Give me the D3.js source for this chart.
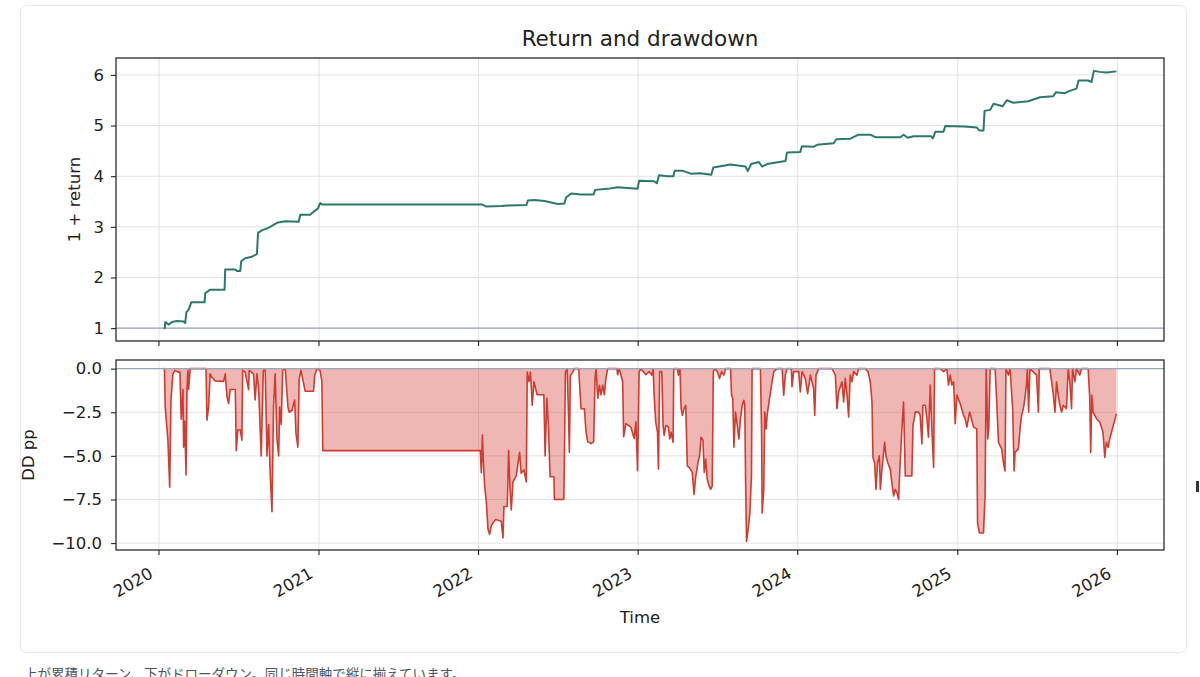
<!DOCTYPE html>
<html>
<head>
<meta charset="utf-8">
<script src="https://cdn.jsdelivr.net/npm/d3@7/dist/d3.min.js"></script>
<style>
html, body { margin: 0; padding: 0; background: #fff; }
svg { display: block; }
</style>
</head>
<body>
<svg id="chart" width="1200" height="677"></svg>
<script>
// values, time as decimal years
var eqT = [2020.029,2020.036,2020.039,2020.061,2020.081,2020.112,2020.154,2020.164,2020.171,2020.186,2020.202,2020.285,2020.289,2020.320,2020.410,2020.414,2020.477,2020.487,2020.508,2020.514,2020.539,2020.581,2020.612,2020.619,2020.643,2020.675,2020.695,2020.737,2020.789,2020.873,2020.883,2020.945,2020.966,2020.993,2021.007,2021.022,2022.024,2022.049,2022.142,2022.184,2022.299,2022.309,2022.350,2022.413,2022.497,2022.538,2022.548,2022.580,2022.642,2022.721,2022.730,2022.809,2022.871,2022.996,2023.006,2023.100,2023.117,2023.131,2023.184,2023.221,2023.229,2023.277,2023.329,2023.391,2023.458,2023.471,2023.579,2023.673,2023.687,2023.708,2023.756,2023.777,2023.808,2023.923,2023.933,2024.016,2024.026,2024.099,2024.121,2024.224,2024.241,2024.329,2024.380,2024.453,2024.485,2024.641,2024.662,2024.687,2024.724,2024.833,2024.845,2024.860,2024.911,2024.922,2025.036,2025.120,2025.136,2025.161,2025.168,2025.203,2025.224,2025.282,2025.307,2025.349,2025.442,2025.515,2025.598,2025.615,2025.671,2025.698,2025.744,2025.757,2025.817,2025.838,2025.853,2025.890,2025.932,2025.994];
var eqV = [1.00,1.00,1.12,1.07,1.12,1.14,1.13,1.10,1.31,1.37,1.51,1.51,1.69,1.76,1.76,2.16,2.16,2.13,2.13,2.32,2.38,2.41,2.46,2.88,2.93,2.97,3.00,3.08,3.11,3.10,3.24,3.24,3.30,3.36,3.47,3.44,3.44,3.40,3.41,3.42,3.43,3.52,3.53,3.51,3.45,3.46,3.58,3.66,3.64,3.64,3.73,3.75,3.78,3.75,3.91,3.90,3.86,4.02,4.00,4.00,4.11,4.11,4.05,4.06,4.03,4.17,4.23,4.19,4.10,4.24,4.28,4.19,4.24,4.30,4.47,4.48,4.59,4.58,4.62,4.65,4.73,4.74,4.82,4.82,4.77,4.77,4.82,4.76,4.79,4.79,4.75,4.88,4.88,4.99,4.98,4.96,4.90,4.90,5.29,5.31,5.43,5.38,5.50,5.45,5.48,5.56,5.58,5.66,5.64,5.68,5.73,5.89,5.89,5.86,6.08,6.06,6.05,6.07];

var ddT = [2020.029,2020.034,2020.039,2020.056,2020.067,2020.075,2020.087,2020.100,2020.119,2020.131,2020.139,2020.150,2020.154,2020.161,2020.169,2020.175,2020.181,2020.185,2020.195,2020.294,2020.300,2020.310,2020.320,2020.331,2020.352,2020.404,2020.414,2020.425,2020.435,2020.445,2020.477,2020.483,2020.493,2020.508,2020.518,2020.523,2020.539,2020.560,2020.564,2020.591,2020.601,2020.612,2020.623,2020.639,2020.652,2020.664,2020.675,2020.685,2020.695,2020.706,2020.716,2020.726,2020.737,2020.748,2020.754,2020.764,2020.773,2020.789,2020.806,2020.814,2020.831,2020.848,2020.856,2020.868,2020.876,2020.887,2020.914,2020.966,2020.973,2020.987,2021.007,2021.018,2021.024,2022.011,
  2022.017,2022.024,2022.030,2022.038,2022.049,2022.059,2022.069,2022.080,2022.090,2022.107,2022.142,2022.153,2022.159,2022.180,2022.188,2022.197,2022.205,2022.215,2022.236,2022.257,2022.267,2022.284,2022.299,2022.305,2022.316,2022.325,2022.336,2022.347,2022.367,2022.409,2022.417,2022.428,2022.438,2022.448,2022.472,2022.475,2022.534,2022.538,2022.544,2022.555,2022.563,2022.569,2022.575,2022.590,2022.600,2022.628,2022.632,2022.642,2022.663,2022.673,2022.684,2022.705,2022.721,2022.730,2022.736,2022.747,2022.757,2022.767,2022.778,2022.788,2022.798,2022.809,2022.867,2022.871,2022.881,2022.903,2022.909,2022.923,2022.954,2022.975,2022.986,2022.996,2023.006,2023.017,2023.048,2023.069,
  2023.085,2023.094,2023.100,2023.110,2023.121,2023.127,2023.135,2023.148,2023.156,2023.163,2023.173,2023.190,2023.198,2023.206,2023.219,2023.223,2023.246,2023.252,2023.262,2023.269,2023.277,2023.287,2023.298,2023.308,2023.319,2023.339,2023.350,2023.360,2023.375,2023.385,2023.394,2023.406,2023.414,2023.423,2023.433,2023.444,2023.454,2023.464,2023.471,2023.479,2023.496,2023.510,2023.523,2023.537,2023.548,2023.579,2023.585,2023.593,2023.600,2023.610,2023.621,2023.631,2023.641,2023.652,2023.662,2023.668,2023.673,2023.679,2023.689,2023.700,2023.710,2023.714,2023.766,2023.773,2023.777,2023.787,2023.793,2023.802,2023.808,2023.823,2023.839,2023.850,2023.870,2023.902,2023.912,2023.922,2023.933,2023.960,2023.964,2023.974,2024.006,2024.016,2024.027,2024.047,2024.062,2024.079,2024.099,2024.106,2024.114,2024.131,2024.214,2024.235,2024.245,2024.256,2024.276,2024.287,2024.297,2024.308,2024.318,2024.328,2024.339,2024.349,2024.370,2024.380,2024.422,2024.439,2024.453,2024.464,2024.470,2024.480,2024.489,2024.499,2024.510,2024.516,2024.526,2024.543,2024.551,2024.562,2024.578,
  2024.588,2024.599,2024.609,2024.620,2024.630,2024.640,2024.651,2024.661,2024.665,2024.672,2024.713,2024.720,2024.728,2024.734,2024.755,2024.765,2024.776,2024.782,2024.797,2024.807,2024.817,2024.828,2024.838,2024.849,2024.855,2024.890,2024.911,2024.932,2024.942,2024.953,2024.963,2024.974,2024.984,2024.994,2025.015,2025.036,2025.046,2025.057,2025.074,2025.088,2025.099,2025.119,2025.124,2025.136,2025.161,2025.171,2025.178,2025.182,2025.188,2025.194,2025.203,2025.234,2025.244,2025.255,2025.275,2025.286,2025.296,2025.302,2025.317,2025.328,2025.338,2025.344,2025.353,2025.359,2025.380,2025.390,2025.400,2025.411,2025.421,2025.432,2025.436,2025.444,2025.452,2025.494,2025.505,2025.511,2025.577,2025.588,2025.598,2025.609,2025.619,2025.629,2025.640,2025.650,2025.661,2025.681,2025.692,2025.702,2025.713,2025.719,2025.734,2025.744,2025.765,2025.775,2025.817,2025.827,2025.833,2025.840,2025.848,2025.869,2025.890,2025.910,2025.921,2025.931,2025.942,2025.952,2025.969,2025.983,2025.994];
var ddV = [0,0,-2.2,-4.1,-6.8,-1.8,-0.3,-0.1,-0.2,-0.2,-2.9,-1.2,-4.5,-3.0,-6.1,-1.2,-0.1,-1.2,0,0,-2.95,-2.2,-0.3,-0.5,-0.7,-0.73,-0.3,-1.6,-2.0,-1.2,-1.2,-4.7,-3.5,-3.5,-4.1,-0.1,-0.2,-1.2,-0.1,-0.3,-1.8,-0.3,-1.2,-5.0,-0.1,-0.1,-5.0,-3.2,-6.0,-8.2,-2.2,-0.3,-4.0,-5.0,-2.2,-3.2,-0.1,0,-2.2,-2.5,-2.4,-1.8,-3.7,-4.5,-0.6,-0.1,-1.3,-1.3,-0.4,0,-0.1,-0.73,-4.7,-4.7,
  -5.96,-3.8,-5.4,-6.7,-7.7,-9.2,-9.5,-9.0,-8.85,-8.65,-8.75,-9.7,-7.9,-7.9,-4.7,-6.9,-8.1,-6.5,-6.15,-4.8,-6.0,-5.8,-6.5,-0.2,-0.75,-0.2,-2.1,-0.75,-1.5,-1.5,-5.0,-1.7,-3.4,-6.2,-6.2,-7.5,-7.5,-5.0,-0.2,0,-2.5,-4.8,-0.4,-0.2,0,0,-0.75,-2.3,-2.3,-3.6,-4.2,-4.3,-4.2,-0.55,0,-1.7,-0.95,-1.5,-0.95,-1.5,-0.55,0,0,-0.35,0,-0.75,-3.9,-3.15,-3.35,-4.0,-3.05,-5.85,-0.2,0,-0.35,-0.17,
  -0.37,0,-1.52,-3.06,-3.64,-5.76,-0.17,-0.17,-3.26,-3.83,-3.26,-3.35,-4.03,-3.64,-4.22,0,0,-0.37,0,-2.29,-2.68,-2.29,-2.10,-5.57,-5.66,-5.95,-7.21,-6.24,-5.38,-4.99,-3.93,-4.12,-5.95,-5.18,-6.34,-6.72,-6.92,-6.72,-0.17,0,-0.17,-0.56,-0.17,-0.37,0,0,-1.52,-1.71,-4.51,-2.49,-3.26,-4.03,-2.87,-2.10,-1.81,-2.10,-6.34,-9.90,-9.23,-8.27,-6.15,0,0,-3.45,-8.27,-6.92,-2.49,-3.45,-2.68,-1.71,-0.75,-0.17,0,0,-1.52,-0.37,0,0,-1.04,-0.17,-0.17,-1.33,-0.17,-0.56,-1.43,-0.37,-1.14,-2.68,-0.37,0,0,-0.37,-2.29,-1.33,-0.75,-1.91,-0.56,-1.52,-2.77,-0.37,-0.75,-0.17,-0.37,0,0,-0.17,-0.75,-1.91,-5.09,-5.38,-6.92,-5.38,-4.99,-6.92,-5.76,-4.22,-4.99,-5.38,-5.76,
  -6.53,-7.30,-6.92,-7.11,-7.50,-5.38,-3.45,-1.91,-3.45,-6.15,-6.15,-3.26,-2.87,-2.49,-2.49,-2.68,-4.32,-2.10,-2.10,-2.87,-3.93,-0.94,-3.45,-5.66,0,0,-0.17,0,-0.94,-0.37,-0.94,-0.75,-3.16,-1.52,-2.00,-2.68,-2.87,-3.35,-2.49,-2.97,-3.35,-3.45,-8.84,-9.42,-9.42,-7.30,0,-1.52,-4.03,-3.45,0,0,-1.91,-4.22,-4.60,-5.38,-5.86,0,-0.37,0,-1.52,-2.29,-5.86,-4.80,-4.60,-3.45,-2.68,-2.29,-1.71,-0.75,0,-2.49,0,-0.37,-2.49,0,0,-0.75,-1.43,-2.49,-0.75,-1.52,-2.10,-2.49,-2.10,-2.29,0,-0.75,-2.29,0,-0.75,0,-0.37,0,0,-1.71,-4.80,-1.52,-2.49,-2.87,-3.06,-3.64,-5.09,-4.22,-4.51,-4.03,-3.45,-2.97,-2.58];

var xTickYears = [2020, 2021, 2022, 2023, 2024, 2025, 2026];
var eqTicks = [1, 2, 3, 4, 5, 6];
var ddTicks = [0, -2.5, -5, -7.5, -10];

var titleText = "Return and drawdown";
var eqLabel = "1 + return";
var ddLabel = "DD pp";
var xLabel = "Time";
var caption = "上が累積リターン、下がドローダウン。同じ時間軸で縦に揃えています。";

var font = "DejaVu Sans, Liberation Sans, sans-serif";
var tickSize = "16.5px";
var titleSize = "21.5px";
var eqColor = "#2c786c";
var ddColor = "#d13b30";
var refColor = "#97a6b8";
var gridColor = "#e2e2e2";
var inkColor = "#222";

// decimal year -> Date
function toDate(t) {
	var y = Math.floor(t);
	var s = new Date(y, 0, 1), e = new Date(y + 1, 0, 1);
	return new Date(+s + (t - y) * (e - s));
}

// matplotlib-like 5% margins
function padded(ext) {
	var p = (ext[1] - ext[0]) * 0.05;
	return [ext[0] - p, ext[1] + p];
}

var top1 = {left: 116, right: 1164, top: 58, bottom: 341};
var bot1 = {left: 116, right: 1164, top: 360, bottom: 550};

var svg = d3.select("#chart");

// card and caption
svg.append("rect")
	.attr("x", 20.5).attr("y", 5.5)
	.attr("width", 1166).attr("height", 647)
	.attr("rx", 6)
	.attr("fill", "#fff")
	.attr("stroke", "#e4e7eb");

svg.append("text")
	.attr("x", 24).attr("y", 679)
	.attr("font-family", "Noto Sans CJK JP, sans-serif")
	.attr("font-size", "13.5px")
	.attr("fill", "#4b5563")
	.text(caption);

// stray dark mark at the right edge of the page
svg.append("rect")
	.attr("x", 1196).attr("y", 481)
	.attr("width", 3).attr("height", 11)
	.attr("fill", "#333");

var tExt = padded([d3.min(eqT.concat(ddT)), d3.max(eqT.concat(ddT))]);
var x = d3.scaleTime()
	.domain([toDate(tExt[0]), toDate(tExt[1])])
	.range([top1.left, top1.right]);

var yEq = d3.scaleLinear()
	.domain(padded([d3.min(eqV), d3.max(eqV)]))
	.range([top1.bottom, top1.top]);

var yDd = d3.scaleLinear()
	.domain(padded([d3.min(ddV), 0]))
	.range([bot1.bottom, bot1.top]);

var eqData = eqT.map(function(t, i) { return {d: toDate(t), v: eqV[i]}; });
var ddData = ddT.map(function(t, i) { return {d: toDate(t), v: ddV[i]}; });
var yearDates = xTickYears.map(function(y) { return new Date(y, 0, 1); });

function drawPanel(box, y, ticks, fmt, pad) {
	var g = svg.append("g");
	var clipId = "clip" + box.top;
	g.append("clipPath").attr("id", clipId)
		.append("rect")
		.attr("x", box.left).attr("y", box.top)
		.attr("width", box.right - box.left).attr("height", box.bottom - box.top);

	// grid
	g.selectAll(".vg").data(yearDates).enter().append("line")
		.attr("x1", function(d) { return x(d); })
		.attr("x2", function(d) { return x(d); })
		.attr("y1", box.top).attr("y2", box.bottom)
		.attr("stroke", gridColor).attr("stroke-width", 1);
	g.selectAll(".hg").data(ticks).enter().append("line")
		.attr("x1", box.left).attr("x2", box.right)
		.attr("y1", function(d) { return y(d); })
		.attr("y2", function(d) { return y(d); })
		.attr("stroke", gridColor).attr("stroke-width", 1);

	// y axis
	var ya = g.append("g")
		.attr("transform", "translate(" + box.left + ",0)")
		.call(d3.axisLeft(y).tickValues(ticks).tickSize(5).tickPadding(pad).tickFormat(fmt));
	ya.select(".domain").remove();
	ya.selectAll("text").attr("font-family", font).attr("font-size", tickSize).attr("fill", inkColor);
	ya.selectAll("line").attr("stroke", inkColor).attr("stroke-width", 1.1);

	// x ticks
	g.selectAll(".xt").data(yearDates).enter().append("line")
		.attr("x1", function(d) { return x(d); })
		.attr("x2", function(d) { return x(d); })
		.attr("y1", box.bottom).attr("y2", box.bottom + 5)
		.attr("stroke", inkColor).attr("stroke-width", 1.1);

	return {g: g, clip: "url(#" + clipId + ")"};
}

var minus = function(v) { return d3.format(".1f")(v).replace("-", "\u2212"); };

var p1 = drawPanel(top1, yEq, eqTicks, d3.format("d"), 7);
var p2 = drawPanel(bot1, yDd, ddTicks, minus, 9);

// top: cumulative return
var c1 = p1.g.append("g").attr("clip-path", p1.clip);
c1.append("line")
	.attr("x1", top1.left).attr("x2", top1.right)
	.attr("y1", yEq(1)).attr("y2", yEq(1))
	.attr("stroke", refColor).attr("stroke-width", 1.3);
c1.append("path")
	.datum(eqData)
	.attr("d", d3.line().x(function(d) { return x(d.d); }).y(function(d) { return yEq(d.v); }))
	.attr("fill", "none")
	.attr("stroke", eqColor)
	.attr("stroke-width", 2)
	.attr("stroke-linejoin", "round");

// bottom: drawdown
var c2 = p2.g.append("g").attr("clip-path", p2.clip);
c2.append("path")
	.datum(ddData)
	.attr("d", d3.area().x(function(d) { return x(d.d); }).y0(yDd(0)).y1(function(d) { return yDd(d.v); }))
	.attr("fill", ddColor)
	.attr("fill-opacity", 0.37)
	.attr("stroke", "none");
c2.append("path")
	.datum(ddData)
	.attr("d", d3.line().x(function(d) { return x(d.d); }).y(function(d) { return yDd(d.v); }))
	.attr("fill", "none")
	.attr("stroke", ddColor)
	.attr("stroke-width", 1.6)
	.attr("stroke-linejoin", "round");
c2.append("line")
	.attr("x1", bot1.left).attr("x2", bot1.right)
	.attr("y1", yDd(0)).attr("y2", yDd(0))
	.attr("stroke", refColor).attr("stroke-width", 1.3);

// spines
[top1, bot1].forEach(function(b) {
	svg.append("rect")
		.attr("x", b.left).attr("y", b.top)
		.attr("width", b.right - b.left).attr("height", b.bottom - b.top)
		.attr("fill", "none").attr("stroke", "#1a1a1a").attr("stroke-width", 1.2);
});

// x tick labels, rotated like autofmt_xdate
svg.selectAll(".xl").data(yearDates).enter().append("text")
	.attr("transform", function(d) { return "translate(" + (x(d) - 11) + ",566) rotate(-30)"; })
	.attr("text-anchor", "end")
	.attr("dy", "0.75em")
	.attr("font-family", font).attr("font-size", tickSize).attr("fill", inkColor)
	.text(function(d, i) { return xTickYears[i]; });

// titles and labels
svg.append("text")
	.attr("x", (top1.left + top1.right) / 2).attr("y", 46)
	.attr("text-anchor", "middle")
	.attr("font-family", font).attr("font-size", titleSize).attr("fill", inkColor)
	.text(titleText);

svg.append("text")
	.attr("transform", "translate(80," + ((top1.top + top1.bottom) / 2) + ") rotate(-90)")
	.attr("text-anchor", "middle")
	.attr("font-family", font).attr("font-size", tickSize).attr("fill", inkColor)
	.text(eqLabel);

svg.append("text")
	.attr("transform", "translate(34," + ((bot1.top + bot1.bottom) / 2) + ") rotate(-90)")
	.attr("text-anchor", "middle")
	.attr("font-family", font).attr("font-size", tickSize).attr("fill", inkColor)
	.text(ddLabel);

svg.append("text")
	.attr("x", (top1.left + top1.right) / 2).attr("y", 623)
	.attr("text-anchor", "middle")
	.attr("font-family", font).attr("font-size", tickSize).attr("fill", inkColor)
	.text(xLabel);
</script>
</body>
</html>
